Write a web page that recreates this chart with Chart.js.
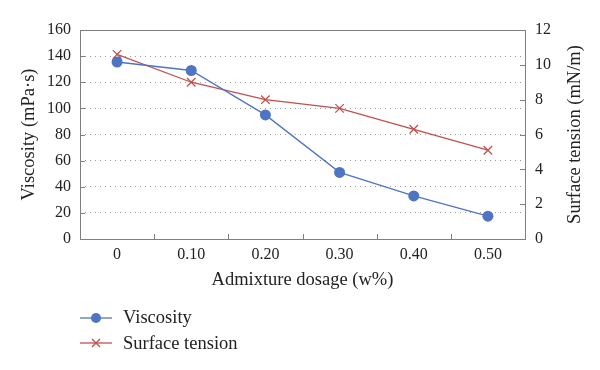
<!DOCTYPE html>
<html>
<head>
<meta charset="utf-8">
<script src="https://cdn.jsdelivr.net/npm/chart.js@4.4.1/dist/chart.umd.min.js"></script>
<style>
  html, body { margin: 0; padding: 0; background: #fff; }
  #wrap { position: relative; width: 600px; height: 370px; }
  canvas { position: absolute; left: 0; top: 0; }
  #legend { position: absolute; left: 80px; top: 305px; font-family: "Liberation Serif", serif; font-size: 18.5px; color: #222; }
  .row { display: flex; align-items: center; height: 25.5px; }
  .row svg { margin-right: 11px; }
</style>
</head>
<body>
<div id="wrap">
  <canvas id="c" width="600" height="370"></canvas>
  <div id="legend">
    <div class="row"><svg width="32" height="14"><line x1="0" y1="7" x2="32" y2="7" stroke="#4f74c2" stroke-width="1.3"/><circle cx="16" cy="7" r="5" fill="#4f74c2"/></svg><span>Viscosity</span></div>
    <div class="row"><svg width="32" height="14"><line x1="0" y1="7" x2="32" y2="7" stroke="#c0504d" stroke-width="1.3"/><line x1="12" y1="3" x2="20" y2="11" stroke="#c0504d" stroke-width="1.3"/><line x1="12" y1="11" x2="20" y2="3" stroke="#c0504d" stroke-width="1.3"/></svg><span>Surface tension</span></div>
  </div>
</div>
<script>
const categories = ["0", "0.10", "0.20", "0.30", "0.40", "0.50"];
const viscosity = [135.5, 129, 95, 51, 33, 17.5];
const surfaceTension = [10.6, 9.0, 8.0, 7.5, 6.3, 5.1];
const leftTicks = [0, 20, 40, 60, 80, 100, 120, 140, 160];
const rightTicks = [0, 2, 4, 6, 8, 10, 12];
const rightTitle = 'Surface tension (mN/m)';

const FONT = "'Liberation Serif', serif";
const AXIS = '#7f7f7f';
const TXT = '#222';

const frame = {
  id: 'frame',
  beforeDatasetsDraw(chart) {
    const { ctx, chartArea: a, scales } = chart;
    ctx.save();
    ctx.strokeStyle = AXIS;
    ctx.lineWidth = 1;
    ctx.strokeRect(Math.round(a.left) + 0.5, Math.round(a.top) + 0.5, Math.round(a.right - a.left), Math.round(a.bottom - a.top));
    ctx.beginPath();
    const x = scales.x;
    const step = x.getPixelForTick(1) - x.getPixelForTick(0);
    for (let i = 0; i <= categories.length; i++) {
      const px = Math.round(x.getPixelForTick(0) + (i - 0.5) * step) + 0.5;
      ctx.moveTo(px, a.bottom);
      ctx.lineTo(px, a.bottom - 5);
    }
    leftTicks.forEach(v => {
      const py = Math.round(scales.y.getPixelForValue(v)) + 0.5;
      ctx.moveTo(a.left, py); ctx.lineTo(a.left + 5, py);
    });
    rightTicks.forEach(v => {
      const py = Math.round(scales.y1.getPixelForValue(v)) + 0.5;
      ctx.moveTo(a.right, py); ctx.lineTo(a.right - 5, py);
    });
    ctx.stroke();
    ctx.restore();
  },
  afterDraw(chart) {
    const { ctx, chartArea: a } = chart;
    ctx.save();
    ctx.translate(575, (a.top + a.bottom) / 2);
    ctx.rotate(-Math.PI / 2);
    ctx.font = "18.5px " + FONT;
    ctx.fillStyle = TXT;
    ctx.textAlign = 'center';
    ctx.textBaseline = 'middle';
    ctx.fillText(rightTitle, 0, 0);
    ctx.restore();
  }
};

new Chart(document.getElementById('c'), {
  type: 'line',
  data: {
    labels: categories,
    datasets: [
      {
        label: 'Viscosity',
        data: viscosity,
        yAxisID: 'y',
        borderColor: '#4f74c2',
        backgroundColor: '#4f74c2',
        borderWidth: 1.3,
        pointStyle: 'circle',
        pointRadius: 5.5,
        pointBorderWidth: 0,
        tension: 0
      },
      {
        label: 'Surface tension',
        data: surfaceTension,
        yAxisID: 'y1',
        borderColor: '#c0504d',
        backgroundColor: '#c0504d',
        borderWidth: 1.3,
        pointStyle: 'crossRot',
        pointRadius: 6,
        pointBorderWidth: 1.3,
        tension: 0
      }
    ]
  },
  options: {
    responsive: false,
    animation: false,
    devicePixelRatio: 1,
    layout: { padding: { left: 18, right: 0, top: 30, bottom: 70 } },
    plugins: { legend: { display: false }, tooltip: { enabled: false } },
    scales: {
      x: {
        offset: true,
        grid: { display: false, drawTicks: false, offset: true },
        border: { display: false },
        ticks: { font: { family: FONT, size: 16 }, color: TXT, padding: 6 },
        title: { display: true, text: 'Admixture dosage (w%)', font: { family: FONT, size: 18.5 }, color: TXT, padding: { top: 4, bottom: 9 } },
        afterFit(s) { s.height = 61; }
      },
      y: {
        position: 'left',
        min: 0, max: 160,
        afterBuildTicks(s) { s.ticks = leftTicks.map(v => ({ value: v })); },
        grid: { color: '#9a9a9a', lineWidth: 1, drawTicks: false },
        border: { display: false, dash: [1, 4] },
        ticks: { font: { family: FONT, size: 16 }, color: TXT, padding: 9 },
        title: { display: true, text: 'Viscosity (mPa·s)', font: { family: FONT, size: 18.5 }, color: TXT, padding: { top: 0, bottom: 2 } },
        afterFit(s) { s.width = 62; }
      },
      y1: {
        position: 'right',
        min: 0, max: 12,
        afterBuildTicks(s) { s.ticks = rightTicks.map(v => ({ value: v })); },
        grid: { display: false, drawTicks: false },
        border: { display: false },
        ticks: { font: { family: FONT, size: 16 }, color: TXT, padding: 10 },
        afterFit(s) { s.width = 75; }
      }
    }
  },
  plugins: [frame]
});
</script>
</body>
</html>
